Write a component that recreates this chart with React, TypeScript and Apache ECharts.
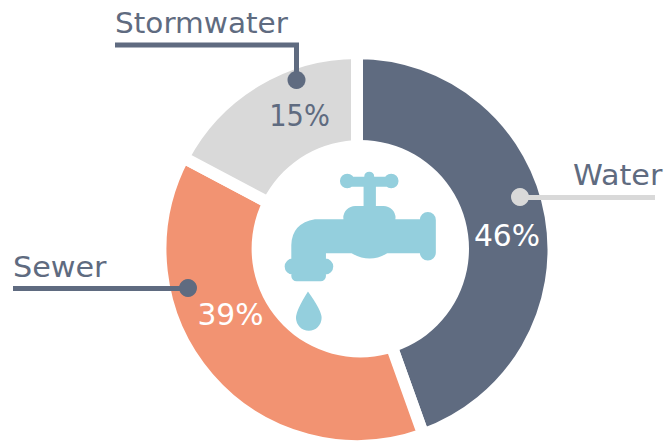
import React, { useEffect, useRef } from "react";
import * as echarts from "echarts";

const categories = ["Water", "Sewer", "Stormwater"];
// Printed percentages.
const percentLabels = ["46%", "39%", "15%"];
// Slice sizes as drawn in the picture (degrees of arc, measured from the gaps).
const arcValues = [160.3, 137.6, 62.1];
const sliceColors = ["#5f6b80", "#f29372", "#d9d9d9"];

const INK = "#5f6b80";
const FONT = "'DejaVu Sans', sans-serif";

const rect = (x: number, y: number, w: number, h: number) =>
  `M${x} ${y}H${x + w}V${y + h}H${x}Z`;
const rr = (x: number, y: number, w: number, h: number, r: number) =>
  `M${x + r} ${y}H${x + w - r}A${r} ${r} 0 0 1 ${x + w} ${y + r}V${y + h - r}A${r} ${r} 0 0 1 ${x + w - r} ${y + h}H${x + r}A${r} ${r} 0 0 1 ${x} ${y + h - r}V${y + r}A${r} ${r} 0 0 1 ${x + r} ${y}Z`;
const circ = (cx: number, cy: number, r: number) =>
  `M${cx - r} ${cy}A${r} ${r} 0 1 1 ${cx + r} ${cy}A${r} ${r} 0 1 1 ${cx - r} ${cy}Z`;

const faucetPath = [
  circ(232, 63, 22),
  circ(364, 63, 22),
  circ(298, 50, 15),
  rect(232, 50, 133, 30),
  rect(281, 50, 37, 100),
  rr(220, 138, 157, 70, 36),
  "M135 178H460V280H352Q300 312 245 280H168V310H64V255Q66 190 135 178Z",
  rr(450, 156, 48, 146, 24),
  rr(44, 296, 146, 48, 24),
  rr(64, 320, 104, 44, 16),
  "M114 395Q78 452 78 474A38 38 0 0 0 155 474Q155 452 114 395Z",
].join("");

echarts.graphic.registerShape("faucet", echarts.graphic.extendPath(faucetPath, {}));

export default function App() {
  const ref = useRef<HTMLDivElement>(null);
  useEffect(() => {
    document.body.style.margin = "0";
    const chart = echarts.init(ref.current!, undefined, { renderer: "svg" });
    const lineStyle = (color: string) => ({ stroke: color, lineWidth: 5, fill: "none" });
    const name = (text: string, x: number, y: number, sx: number) => ({
      type: "text", x, y, z: 10, scaleX: sx,
      style: { text, fill: INK, font: `400 28px ${FONT}`, textAlign: "left", textVerticalAlign: "middle" },
    });
    const pct = (text: string, x: number, y: number, fill: string, sx: number) => ({
      type: "text", x, y, z: 10, scaleX: sx,
      style: { text, fill, font: `400 31px ${FONT}`, textAlign: "center", textVerticalAlign: "middle" },
    });
    chart.setOption({
      animation: false,
      backgroundColor: "#ffffff",
      series: [
        {
          type: "pie",
          center: [357, 249.5],
          radius: [90, 196.5],
          startAngle: 90,
          clockwise: true,
          silent: true,
          label: { show: false },
          labelLine: { show: false },
          itemStyle: { borderColor: "#ffffff", borderWidth: 12 },
          data: categories.map((c, i) => ({
            name: c,
            value: arcValues[i],
            itemStyle: { color: sliceColors[i] },
          })),
        },
      ],
      graphic: [
        // The hole sits slightly right of the ring's centre in the reference.
        { type: "circle", z: 4, shape: { cx: 360.3, cy: 248.7, r: 108.7 }, style: { fill: "#ffffff" } },
        { type: "faucet", x: 270, y: 160, scaleX: 1 / 3, scaleY: 1 / 3, z: 5, style: { fill: "#94cfdd" } },
        { type: "polyline", z: 6, shape: { points: [[115, 45], [296.5, 45], [296.5, 80]] }, style: lineStyle(INK) },
        { type: "circle", z: 7, shape: { cx: 296.5, cy: 80, r: 9 }, style: { fill: INK } },
        { type: "line", z: 6, shape: { x1: 520, y1: 197.5, x2: 655, y2: 197.5 }, style: lineStyle("#d9d9d9") },
        { type: "circle", z: 7, shape: { cx: 520, cy: 197, r: 9 }, style: { fill: "#d9d9d9" } },
        { type: "line", z: 6, shape: { x1: 13, y1: 288.5, x2: 188, y2: 288.5 }, style: lineStyle(INK) },
        { type: "circle", z: 7, shape: { cx: 188, cy: 288, r: 9 }, style: { fill: INK } },
        name(categories[2], 115, 23.5, 1.055),
        name(categories[0], 573, 175, 1.08),
        name(categories[1], 13, 267, 1.08),
        pct(percentLabels[2], 299.5, 115, INK, 0.88),
        pct(percentLabels[0], 507, 235.5, "#ffffff", 0.96),
        pct(percentLabels[1], 230.5, 314, "#ffffff", 0.96),
      ],
    });
    return () => chart.dispose();
  }, []);
  return <div ref={ref} style={{ width: 671, height: 441 }} />;
}
